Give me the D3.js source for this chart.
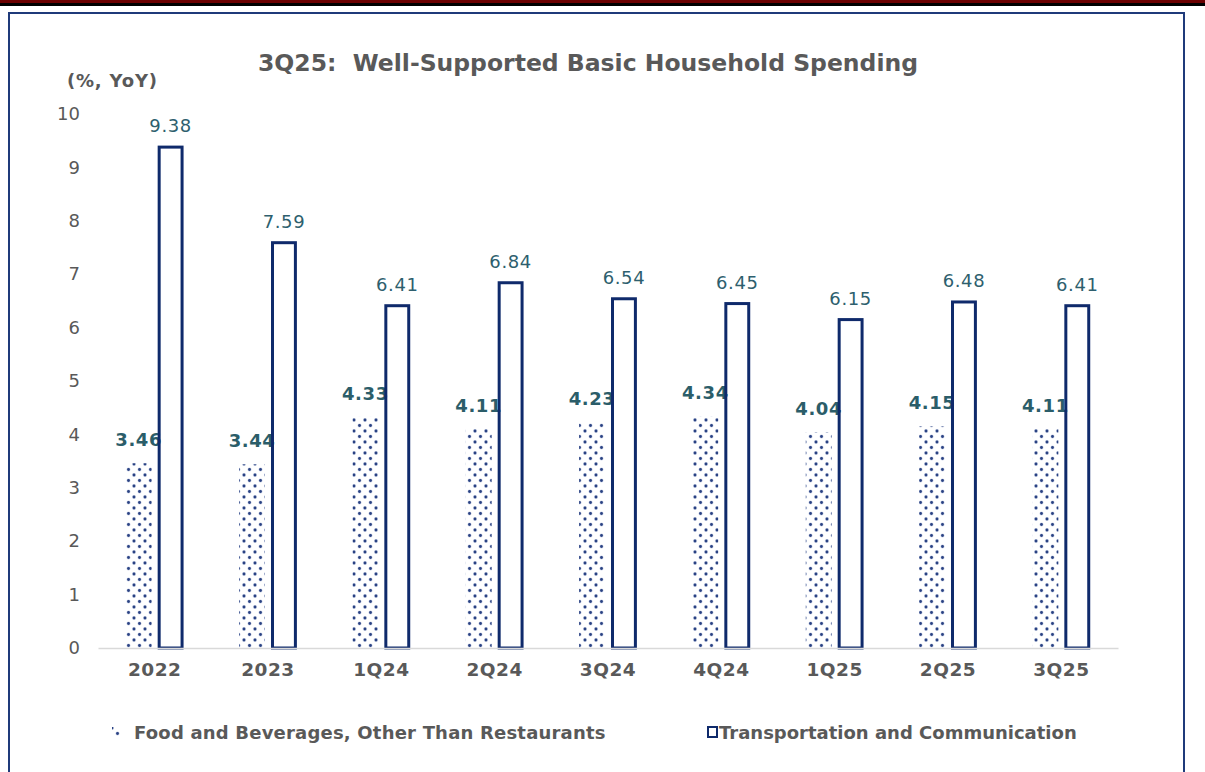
<!DOCTYPE html>
<html>
<head lang="en">
    <meta charset="UTF-8">
    <title>3Q25: Well-Supported Basic Household Spending</title>
    <style>
        body { margin: 0; background: #fff; }
        text { font-family: Verdana, "DejaVu Sans", sans-serif; }
    </style>
</head>
<body>
<svg width="1205" height="772"></svg>
<script src="https://cdn.jsdelivr.net/npm/d3@7/dist/d3.min.js"></script>
<script>
    var categories = ["2022", "2023", "1Q24", "2Q24", "3Q24", "4Q24", "1Q25", "2Q25", "3Q25"];
    var foodValues = [3.46, 3.44, 4.33, 4.11, 4.23, 4.34, 4.04, 4.15, 4.11];
    var transportValues = [9.38, 7.59, 6.41, 6.84, 6.54, 6.45, 6.15, 6.48, 6.41];
    var yTicks = [0, 1, 2, 3, 4, 5, 6, 7, 8, 9, 10];
    var seriesNames = ["Food and Beverages, Other Than Restaurants", "Transportation and Communication"];

    var svg = d3.select("svg"),
        navy = "#0f2a6b",
        grey = "#595959",
        teal = "#2b5d69",
        FONT = "Verdana, 'DejaVu Sans', sans-serif";

    // top band + frame
    svg.append("rect").attr("x", 0).attr("y", 0).attr("width", 1205).attr("height", 3).attr("fill", "#6b0000");
    svg.append("rect").attr("x", 0).attr("y", 3).attr("width", 1205).attr("height", 3).attr("fill", "#000");
    svg.append("path")
        .attr("d", "M9,772 V13 H1184 V772")
        .attr("fill", "none")
        .attr("stroke", "#1f3a7a")
        .attr("stroke-width", 2);

    var defs = svg.append("defs");
    var pat = defs.append("pattern")
        .attr("id", "dots")
        .attr("patternUnits", "userSpaceOnUse")
        .attr("width", 11).attr("height", 11);
    pat.append("rect").attr("width", 11).attr("height", 11).attr("fill", "#fff");
    [[2, 2], [7.5, 7.5]].forEach(function (p) {
        pat.append("circle").attr("cx", p[0]).attr("cy", p[1]).attr("r", 2).attr("fill", "#c9d1e6");
        pat.append("circle").attr("cx", p[0]).attr("cy", p[1]).attr("r", 1.4).attr("fill", "#2a4283");
    });

    var xScale = d3.scaleBand().domain(categories).range([98, 1118]).paddingInner(0.49).paddingOuter(0.245);
    var yScale = d3.scaleLinear().domain([0, 10]).range([648, 114]);
    var bw = (xScale.bandwidth() - 6) / 2;

    // y axis labels
    var yAxis = d3.axisLeft(yScale).tickValues(yTicks).tickSize(0).tickPadding(0);
    var gy = svg.append("g").attr("transform", "translate(80,0)").call(yAxis);
    gy.select(".domain").remove();
    gy.selectAll("text").attr("fill", grey).style("font-size", "18px").style("font-family", FONT);

    // food bars
    svg.selectAll(".food").data(foodValues).enter().append("rect")
        .attr("class", "food")
        .attr("x", function (d, i) { return xScale(categories[i]); })
        .attr("y", function (d) { return yScale(d); })
        .attr("width", bw)
        .attr("height", function (d) { return yScale(0) - yScale(d); })
        .attr("fill", "url(#dots)");

    // food labels (under the transport bar outlines, as in the original)
    svg.selectAll(".flab").data(foodValues).enter().append("text")
        .attr("x", function (d, i) { return xScale(categories[i]) + bw / 2; })
        .attr("y", function (d) { return yScale(d) - 17; })
        .attr("text-anchor", "middle")
        .attr("fill", teal)
        .style("font-size", "18px").style("font-weight", "bold").style("letter-spacing", "0.6px")
        .text(function (d) { return d.toFixed(2); });

    // transport bars
    svg.selectAll(".trans").data(transportValues).enter().append("rect")
        .attr("class", "trans")
        .attr("x", function (d, i) { return xScale(categories[i]) + bw + 6 + 1.5; })
        .attr("y", function (d) { return yScale(d); })
        .attr("width", bw - 3)
        .attr("height", function (d) { return yScale(0) - yScale(d); })
        .attr("fill", "none")
        .attr("stroke", navy)
        .attr("stroke-width", 3);

    // x axis
    var xAxis = d3.axisBottom(xScale).tickSize(0).tickPadding(15);
    var gx = svg.append("g").attr("transform", "translate(0," + yScale(0) + ")").call(xAxis);
    gx.select(".domain").attr("stroke", "#d9d9d9").attr("stroke-width", 1.5);
    gx.selectAll("text").attr("fill", grey).style("font-size", "18.5px").style("font-weight", "bold")
        .style("letter-spacing", "0.5px").style("font-family", FONT);

    svg.selectAll(".tlab").data(transportValues).enter().append("text")
        .attr("x", function (d, i) { return xScale(categories[i]) + bw * 1.5 + 6; })
        .attr("y", function (d) { return yScale(d) - 15; })
        .attr("text-anchor", "middle")
        .attr("fill", "#2e5f6e")
        .style("font-size", "18px").style("letter-spacing", "0.6px")
        .text(function (d) { return d.toFixed(2); });

    // titles
    svg.append("text").attr("x", 588).attr("y", 71).attr("text-anchor", "middle")
        .attr("fill", grey).style("font-size", "23.5px").style("font-weight", "bold")
        .style("white-space", "pre")
        .text("3Q25:  Well-Supported Basic Household Spending");
    svg.append("text").attr("x", 67).attr("y", 87)
        .attr("fill", grey).style("font-size", "18px").style("font-weight", "bold").style("letter-spacing", "0.8px")
        .text("(%, YoY)");

    // legend
    svg.append("rect").attr("x", 112).attr("y", 727).attr("width", 9).attr("height", 9).attr("fill", "url(#dots)");
    svg.append("text").attr("x", 134).attr("y", 739).attr("fill", grey)
        .style("font-size", "18px").style("font-weight", "bold").style("letter-spacing", "0.2px").text(seriesNames[0]);
    svg.append("rect").attr("x", 708).attr("y", 727).attr("width", 9).attr("height", 10)
        .attr("fill", "#fff").attr("stroke", navy).attr("stroke-width", 2);
    svg.append("text").attr("x", 719).attr("y", 739).attr("fill", grey)
        .style("font-size", "18px").style("font-weight", "bold").style("letter-spacing", "0px").text(seriesNames[1]);
</script>
</body>
</html>
